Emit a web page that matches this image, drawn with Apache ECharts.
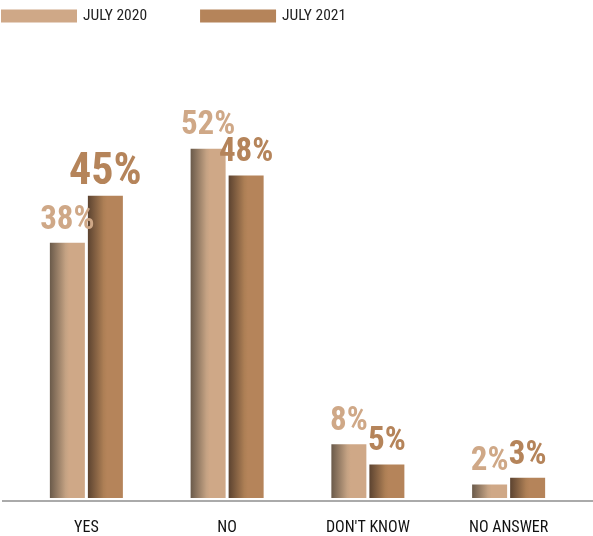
<!DOCTYPE html>
<html><head><meta charset="utf-8">
<script src="https://cdn.jsdelivr.net/npm/echarts@6/dist/echarts.min.js"></script>
<style>html,body{margin:0;padding:0;background:#fff}#c{width:593px;height:536px}</style>
</head><body><div id="c"></div>
<script>
const categories = ["YES", "NO", "DON'T KNOW", "NO ANSWER"];
const seriesNames = ["JULY 2020", "JULY 2021"];
const values2020 = [38, 52, 8, 2];
const values2021 = [45, 48, 5, 3];
const highlight2021 = 0; // index of emphasized label

const FONT = '"Roboto Condensed", "Open Sans", sans-serif';
const c2020 = '#cfa887', c2021 = '#b5845a';

function grad(dark, mid, light) {
  return new echarts.graphic.LinearGradient(0, 0, 1, 0, [
    {offset: 0, color: dark},
    {offset: 0.45, color: mid},
    {offset: 0.55, color: light},
    {offset: 1, color: light}
  ]);
}

const chart = echarts.init(document.getElementById('c'), null, {renderer: 'canvas'});
const lblBase = {show: true, position: 'top', distance: 6, formatter: '{c}%', fontFamily: FONT, fontWeight: 'bold', fontSize: 33};

chart.setOption({
  animation: false,
  legend: {
    left: 1, top: 8, itemWidth: 76, itemHeight: 13, itemGap: 53,
    icon: 'rect', padding: 0,
    textStyle: {fontFamily: FONT, fontSize: 15.5, color: '#222', padding: [2,0,0,1]},
    data: [
      {name: seriesNames[0], itemStyle: {color: c2020}},
      {name: seriesNames[1], itemStyle: {color: c2021}}
    ]
  },
  grid: {left: 16, right: 14, top: 95, bottom: 35},
  graphic: [{type: 'line', shape: {x1: 2, y1: 501, x2: 593, y2: 501}, style: {stroke: '#aaaaaa', lineWidth: 2}, z: 10}],
  xAxis: {
    type: 'category', data: categories,
    axisLine: {show: false}, axisTick: {show: false},
    axisLabel: {fontFamily: FONT, fontSize: 16, color: '#111', margin: 22}
  },
  yAxis: {type: 'value', min: 0, max: 60, show: false, splitLine: {show: false}},
  series: [
    {
      name: seriesNames[0], type: 'bar', barWidth: 35, barGap: '8.6%',
      itemStyle: {color: grad('#6a5a4a', '#c4a283', c2020)},
      label: Object.assign({}, lblBase, {color: c2020}),
      data: values2020
    },
    {
      name: seriesNames[1], type: 'bar', barWidth: 35,
      itemStyle: {color: grad('#5c4330', '#ad7f55', c2021)},
      label: Object.assign({}, lblBase, {color: c2021}),
      data: values2021.map((v, i) => i === highlight2021 ? {value: v, label: {fontSize: 44, distance: 1}} : v)
    }
  ]
});
</script></body></html>
